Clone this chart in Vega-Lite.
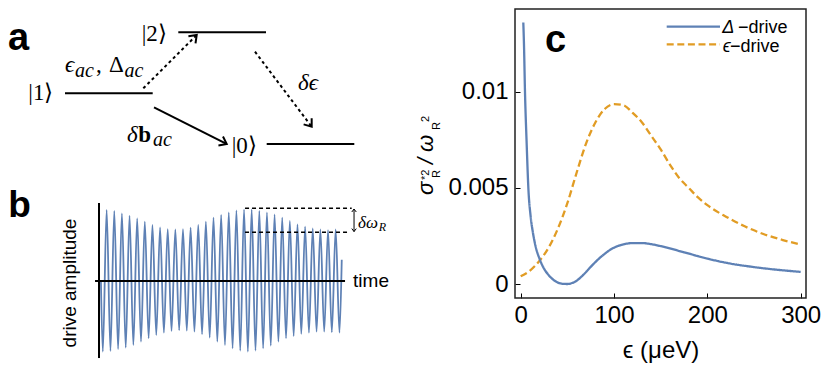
{
  "$schema": "https://vega.github.io/schema/vega-lite/v6.json",
  "padding": 0,
  "background": "white",
  "config": {"view": {"stroke": null}},
  "bounds": "flush",
  "spacing": 135,
  "hconcat": [
    {
      "width": 380,
      "height": 372,
      "resolve": {"scale": {"x": "independent", "y": "independent"}},
      "layer": [
        {
          "encoding": {
            "x": {"field": "x", "type": "quantitative", "scale": {"domain": [0, 38], "nice": false, "zero": false}, "axis": null},
            "y": {"field": "y", "type": "quantitative", "scale": {"domain": [-19.7, 17.5], "nice": false, "zero": false}, "axis": null}
          },
          "layer": [
            {
              "data": {"values": [
                {"x": 6.5, "x2": 15.27, "y": 8.17},
                {"x": 17.83, "x2": 26.6, "y": 14.27},
                {"x": 26.67, "x2": 35.43, "y": 3.1}
              ]},
              "mark": {"type": "rule", "strokeWidth": 2, "color": "black"},
              "encoding": {"x2": {"field": "x2"}}
            },
            {
              "data": {"values": [
                {"x": 14.33, "y": 8.67, "x2": 19.6, "y2": 13.93},
                {"x": 25.5, "y": 12.33, "x2": 31.1, "y2": 4.92}
              ]},
              "mark": {"type": "rule", "strokeWidth": 2, "color": "black", "strokeDash": [3, 3]},
              "encoding": {"x2": {"field": "x2"}, "y2": {"field": "y2"}}
            },
            {
              "data": {"values": [
                {"x": 15.4, "y": 6.77, "x2": 22.6, "y2": 3.13}
              ]},
              "mark": {"type": "rule", "strokeWidth": 2, "color": "black"},
              "encoding": {"x2": {"field": "x2"}, "y2": {"field": "y2"}}
            },
            {
              "data": {"values": [
                {"x": 19.67, "y": 14.0, "ang": -45},
                {"x": 22.67, "y": 3.1, "ang": 26.8},
                {"x": 31.17, "y": 4.83, "ang": 52.9}
              ]},
              "mark": {"type": "point", "shape": "M -1 -0.75 L 0 0 L -1 0.75", "filled": false, "stroke": "black", "strokeWidth": 2, "size": 180, "opacity": 1},
              "encoding": {"angle": {"field": "ang", "type": "quantitative", "scale": null}}
            },
            {
              "data": {"values": [{"x": 0.8, "y": 12.5, "t": "a"}]},
              "mark": {"type": "text", "font": "Liberation Sans", "fontWeight": "bold", "fontSize": 38, "align": "left", "baseline": "alphabetic", "color": "black"},
              "encoding": {"text": {"field": "t"}}
            },
            {
              "data": {"values": [
                {"x": 2.83, "y": 8.2, "t": "|1⟩"},
                {"x": 14.17, "y": 14.1, "t": "|2⟩"},
                {"x": 23.17, "y": 2.92, "t": "|0⟩"}
              ]},
              "mark": {"type": "text", "font": "Liberation Serif", "fontSize": 23, "align": "left", "baseline": "middle", "color": "black"},
              "encoding": {"text": {"field": "t"}}
            },
            {
              "data": {"values": [
                {"x": 9.6, "y": 10.3, "t": ","},
                {"x": 10.9, "y": 10.3, "t": "Δ"}
              ]},
              "mark": {"type": "text", "font": "Liberation Serif", "fontSize": 23, "align": "left", "baseline": "alphabetic", "color": "black"},
              "encoding": {"text": {"field": "t"}}
            },
            {
              "data": {"values": [
                {"x": 6.5, "y": 10.3, "t": "ϵ", "s": 23},
                {"x": 7.5, "y": 9.8, "t": "ac", "s": 20},
                {"x": 12.45, "y": 9.8, "t": "ac", "s": 20},
                {"x": 29.8, "y": 8.5, "t": "δϵ", "s": 23},
                {"x": 12.7, "y": 3.33, "t": "δ", "s": 23},
                {"x": 15.3, "y": 2.9, "t": "ac", "s": 20}
              ]},
              "mark": {"type": "text", "font": "Liberation Serif", "fontStyle": "italic", "align": "left", "baseline": "alphabetic", "color": "black"},
              "encoding": {"text": {"field": "t"}, "size": {"field": "s", "type": "quantitative", "scale": null}}
            },
            {
              "data": {"values": [{"x": 13.83, "y": 3.33, "t": "b"}]},
              "mark": {"type": "text", "font": "Liberation Serif", "fontWeight": "bold", "fontSize": 23, "align": "left", "baseline": "alphabetic", "color": "black"},
              "encoding": {"text": {"field": "t"}}
            }
          ]
        },
        {
          "encoding": {
            "x": {"field": "t", "type": "quantitative", "scale": {"domain": [-12.97, 36.81], "nice": false, "zero": false}, "axis": null},
            "y": {"field": "a", "type": "quantitative", "scale": {"domain": [-1.2817, 3.958], "nice": false, "zero": false}, "axis": null}
          },
          "layer": [
            {
              "data": {"values": [
                {"t": 0.25, "a": 0},
                {"t": 0.5, "a": -0.995}, {"t": 1, "a": 1.0}, {"t": 1.5, "a": -0.986}, {"t": 2, "a": 0.986},
                {"t": 2.5, "a": -0.958}, {"t": 3, "a": 0.953}, {"t": 3.5, "a": -0.939}, {"t": 4, "a": 0.92},
                {"t": 4.5, "a": -0.901}, {"t": 5, "a": 0.883}, {"t": 5.5, "a": -0.854}, {"t": 6, "a": 0.835},
                {"t": 6.5, "a": -0.808}, {"t": 7, "a": 0.789}, {"t": 7.5, "a": -0.761}, {"t": 8, "a": 0.756},
                {"t": 8.5, "a": -0.728}, {"t": 9, "a": 0.732}, {"t": 9.5, "a": -0.704}, {"t": 10, "a": 0.728},
                {"t": 10.5, "a": -0.695}, {"t": 11, "a": 0.732}, {"t": 11.5, "a": -0.7}, {"t": 12, "a": 0.751},
                {"t": 12.5, "a": -0.714}, {"t": 13, "a": 0.789}, {"t": 13.5, "a": -0.751}, {"t": 14, "a": 0.835},
                {"t": 14.5, "a": -0.798}, {"t": 15, "a": 0.892}, {"t": 15.5, "a": -0.854}, {"t": 16, "a": 0.93},
                {"t": 16.5, "a": -0.901}, {"t": 17, "a": 0.968}, {"t": 17.5, "a": -0.948}, {"t": 18, "a": 0.996},
                {"t": 18.5, "a": -0.981}, {"t": 19, "a": 1.01}, {"t": 19.5, "a": -0.995}, {"t": 20, "a": 1.01},
                {"t": 20.5, "a": -0.981}, {"t": 21, "a": 0.986}, {"t": 21.5, "a": -0.948}, {"t": 22, "a": 0.968},
                {"t": 22.5, "a": -0.911}, {"t": 23, "a": 0.939}, {"t": 23.5, "a": -0.854}, {"t": 24, "a": 0.892},
                {"t": 24.5, "a": -0.808}, {"t": 25, "a": 0.845}, {"t": 25.5, "a": -0.775}, {"t": 26, "a": 0.798},
                {"t": 26.5, "a": -0.746}, {"t": 27, "a": 0.765}, {"t": 27.5, "a": -0.728}, {"t": 28, "a": 0.742},
                {"t": 28.5, "a": -0.714}, {"t": 29, "a": 0.728}, {"t": 29.5, "a": -0.714}, {"t": 30, "a": 0.718},
                {"t": 30.5, "a": -0.723}, {"t": 31, "a": 0.728}, {"t": 31.5, "a": -0.728}, {"t": 31.8, "a": 0.3}
              ]},
              "mark": {"type": "line", "interpolate": "monotone", "color": "#5E81B5", "strokeWidth": 1.8}
            },
            {
              "data": {"values": [
                {"t": 0, "a": 1.099, "t2": 0, "a2": -1.085},
                {"t": -0.52, "a": 0, "t2": 32.23, "a2": 0}
              ]},
              "mark": {"type": "rule", "strokeWidth": 2, "color": "black"},
              "encoding": {"x2": {"field": "t2"}, "y2": {"field": "a2"}}
            },
            {
              "data": {"values": [
                {"t": 19.13, "a": 1.024, "t2": 33.1},
                {"t": 19.13, "a": 0.686, "t2": 32.62}
              ]},
              "mark": {"type": "rule", "strokeWidth": 1.6, "color": "black", "strokeDash": [4, 3]},
              "encoding": {"x2": {"field": "t2"}}
            },
            {
              "data": {"values": [
                {"t": 33.41, "a": 1.014, "a2": 0.696}
              ]},
              "mark": {"type": "rule", "strokeWidth": 1, "color": "black"},
              "encoding": {"y2": {"field": "a2"}}
            },
            {
              "data": {"values": [
                {"t": 33.41, "a": 1.014, "ang": -90},
                {"t": 33.41, "a": 0.696, "ang": 90}
              ]},
              "mark": {"type": "point", "shape": "M -1 -0.75 L 0 0 L -1 0.75", "filled": false, "stroke": "black", "strokeWidth": 1, "size": 36, "opacity": 1},
              "encoding": {"angle": {"field": "ang", "type": "quantitative", "scale": null}}
            },
            {
              "data": {"values": [{"t": -11.88, "a": 0.906, "s": "b"}]},
              "mark": {"type": "text", "font": "Liberation Sans", "fontWeight": "bold", "fontSize": 37, "align": "left", "baseline": "alphabetic", "color": "black"},
              "encoding": {"text": {"field": "s"}}
            },
            {
              "data": {"values": [{"t": 33.28, "a": 0, "s": "time"}]},
              "mark": {"type": "text", "font": "Liberation Sans", "fontSize": 19, "align": "left", "baseline": "middle", "color": "black"},
              "encoding": {"text": {"field": "s"}}
            },
            {
              "data": {"values": [{"t": -3.8, "a": -0.028, "s": "drive amplitude"}]},
              "mark": {"type": "text", "font": "Liberation Sans", "fontSize": 19, "align": "center", "baseline": "middle", "angle": 270, "color": "black"},
              "encoding": {"text": {"field": "s"}}
            },
            {
              "data": {"values": [
                {"t": 33.93, "a": 0.746, "s": "δω", "z": 17},
                {"t": 36.65, "a": 0.7, "s": "R", "z": 12}
              ]},
              "mark": {"type": "text", "font": "Liberation Serif", "fontStyle": "italic", "align": "left", "baseline": "alphabetic", "color": "black"},
              "encoding": {"text": {"field": "s"}, "size": {"field": "z", "type": "quantitative", "scale": null}}
            }
          ]
        }
      ]
    },
    {
      "width": 291,
      "height": 298,
      "encoding": {
        "x": {"field": "x", "type": "quantitative", "scale": {"domain": [-6.1, 305.7], "nice": false, "zero": false},
          "axis": {"values": [0, 100, 200, 300], "domain": false, "grid": false, "tickSize": -5, "tickColor": "black", "tickWidth": 1,
            "labelFont": "Liberation Sans", "labelFontSize": 24, "labelColor": "black", "labelPadding": 10, "labelFlush": false,
            "title": "ϵ (μeV)", "titleFont": "Liberation Sans", "titleFontSize": 24, "titleFontWeight": "normal", "titleColor": "black", "titlePadding": 11}},
        "y": {"field": "y", "type": "quantitative", "scale": {"domain": [-0.000728, 0.014769], "nice": false, "zero": false},
          "axis": {"values": [0, 0.005, 0.01], "format": "~g", "domain": false, "grid": false, "tickSize": -5, "tickColor": "black", "tickWidth": 1,
            "labelFont": "Liberation Sans", "labelFontSize": 24, "labelColor": "black", "labelPadding": 12, "labelFlush": false, "title": null}}
      },
      "layer": [
        {
          "data": {"values": [{"x": -6.1, "x2": 305.7, "y": -0.000728, "y2": 0.0143}]},
          "mark": {"type": "rect", "filled": false, "stroke": "#222222", "strokeWidth": 1.5},
          "encoding": {"x2": {"field": "x2"}, "y2": {"field": "y2"}}
        },
        {
          "data": {"values": [
            {"x": 0, "y": 0.0004, "s": "eps"}, {"x": 10, "y": 0.0007, "s": "eps"}, {"x": 20, "y": 0.0012, "s": "eps"},
            {"x": 30, "y": 0.0019, "s": "eps"}, {"x": 40, "y": 0.0029, "s": "eps"}, {"x": 50, "y": 0.0042, "s": "eps"},
            {"x": 60, "y": 0.0058, "s": "eps"}, {"x": 70, "y": 0.0073, "s": "eps"}, {"x": 80, "y": 0.0084, "s": "eps"},
            {"x": 90, "y": 0.0091, "s": "eps"}, {"x": 100, "y": 0.00935, "s": "eps"}, {"x": 110, "y": 0.0093, "s": "eps"},
            {"x": 120, "y": 0.0089, "s": "eps"}, {"x": 130, "y": 0.0084, "s": "eps"}, {"x": 140, "y": 0.0077, "s": "eps"},
            {"x": 150, "y": 0.007, "s": "eps"}, {"x": 160, "y": 0.0062, "s": "eps"}, {"x": 170, "y": 0.0055, "s": "eps"},
            {"x": 180, "y": 0.005, "s": "eps"}, {"x": 190, "y": 0.0045, "s": "eps"}, {"x": 200, "y": 0.0041, "s": "eps"},
            {"x": 220, "y": 0.0035, "s": "eps"}, {"x": 240, "y": 0.003, "s": "eps"}, {"x": 260, "y": 0.0026, "s": "eps"},
            {"x": 280, "y": 0.0023, "s": "eps"}, {"x": 300, "y": 0.00205, "s": "eps"},
            {"x": 2.8, "y": 0.0136, "s": "delta"}, {"x": 3.5, "y": 0.0125, "s": "delta"}, {"x": 4.6, "y": 0.01, "s": "delta"},
            {"x": 6.4, "y": 0.0073, "s": "delta"}, {"x": 8.2, "y": 0.005, "s": "delta"}, {"x": 10.7, "y": 0.0035, "s": "delta"},
            {"x": 13, "y": 0.0027, "s": "delta"}, {"x": 15.3, "y": 0.0021, "s": "delta"}, {"x": 20.7, "y": 0.00125, "s": "delta"},
            {"x": 25, "y": 0.0008, "s": "delta"}, {"x": 30, "y": 0.00046, "s": "delta"}, {"x": 35, "y": 0.00022, "s": "delta"},
            {"x": 40, "y": 0.00007, "s": "delta"}, {"x": 45, "y": 0.00001, "s": "delta"}, {"x": 50, "y": 0, "s": "delta"},
            {"x": 55, "y": 0.00005, "s": "delta"}, {"x": 60, "y": 0.00017, "s": "delta"}, {"x": 65, "y": 0.00038, "s": "delta"},
            {"x": 70, "y": 0.00062, "s": "delta"}, {"x": 75, "y": 0.00089, "s": "delta"}, {"x": 80, "y": 0.00114, "s": "delta"},
            {"x": 85, "y": 0.00137, "s": "delta"}, {"x": 90, "y": 0.00157, "s": "delta"}, {"x": 95, "y": 0.00175, "s": "delta"},
            {"x": 100, "y": 0.00189, "s": "delta"}, {"x": 110, "y": 0.00206, "s": "delta"}, {"x": 120, "y": 0.00213, "s": "delta"},
            {"x": 130, "y": 0.00213, "s": "delta"}, {"x": 140, "y": 0.00207, "s": "delta"}, {"x": 150, "y": 0.00197, "s": "delta"},
            {"x": 175, "y": 0.00165, "s": "delta"}, {"x": 200, "y": 0.00132, "s": "delta"}, {"x": 225, "y": 0.00106, "s": "delta"},
            {"x": 250, "y": 0.00088, "s": "delta"}, {"x": 275, "y": 0.00074, "s": "delta"}, {"x": 300, "y": 0.00063, "s": "delta"}
          ]},
          "mark": {"type": "line", "interpolate": "monotone", "strokeWidth": 2.3},
          "encoding": {
            "color": {"field": "s", "type": "nominal", "scale": {"domain": ["delta", "eps"], "range": ["#5E81B5", "#E19C24"]}, "legend": null},
            "strokeDash": {"field": "s", "type": "nominal", "scale": {"domain": ["delta", "eps"], "range": [[1, 0], [7, 3.6]]}, "legend": null}
          }
        },
        {
          "data": {"values": [{"x": 156.44, "x2": 213.55, "y": 0.01338}]},
          "mark": {"type": "rule", "strokeWidth": 2.3, "color": "#5E81B5"},
          "encoding": {"x2": {"field": "x2"}}
        },
        {
          "data": {"values": [{"x": 156.44, "x2": 213.55, "y": 0.012465}]},
          "mark": {"type": "rule", "strokeWidth": 2.3, "color": "#E19C24", "strokeDash": [7, 3.6]},
          "encoding": {"x2": {"field": "x2"}}
        },
        {
          "data": {"values": [
            {"x": 216.0, "y": 0.013037, "t": "Δ"},
            {"x": 216.45, "y": 0.01208, "t": "ϵ"}
          ]},
          "mark": {"type": "text", "font": "Liberation Sans", "fontStyle": "italic", "fontSize": 18, "align": "left", "baseline": "alphabetic", "color": "black"},
          "encoding": {"text": {"field": "t"}}
        },
        {
          "data": {"values": [
            {"x": 232.84, "y": 0.013037, "t": "−drive"},
            {"x": 224.27, "y": 0.01208, "t": "−drive"}
          ]},
          "mark": {"type": "text", "font": "Liberation Sans", "fontSize": 18, "align": "left", "baseline": "alphabetic", "color": "black"},
          "encoding": {"text": {"field": "t"}}
        },
        {
          "data": {"values": [{"x": 26.04, "y": 0.01208, "t": "c"}]},
          "mark": {"type": "text", "font": "Liberation Sans", "fontWeight": "bold", "fontSize": 38, "align": "left", "baseline": "alphabetic", "color": "black"},
          "encoding": {"text": {"field": "t"}}
        },
        {
          "data": {"values": [
            {"x": -93.96, "y": 0.004628, "t": "σ"},
            {"x": -93.96, "y": 0.006240, "t": "/"},
            {"x": -93.96, "y": 0.006864, "t": "ω"}
          ]},
          "mark": {"type": "text", "font": "Liberation Sans", "fontStyle": "italic", "fontSize": 22, "angle": 270, "align": "left", "baseline": "alphabetic", "color": "black"},
          "encoding": {"text": {"field": "t"}}
        },
        {
          "data": {"values": [
            {"x": -98.25, "y": 0.005408, "t": "*2"},
            {"x": -86.46, "y": 0.005512, "t": "R"},
            {"x": -86.46, "y": 0.008008, "t": "R"},
            {"x": -98.25, "y": 0.008424, "t": "2"}
          ]},
          "mark": {"type": "text", "font": "Liberation Sans", "fontSize": 11, "angle": 270, "align": "left", "baseline": "alphabetic", "color": "black"},
          "encoding": {"text": {"field": "t"}}
        }
      ]
    }
  ]
}
